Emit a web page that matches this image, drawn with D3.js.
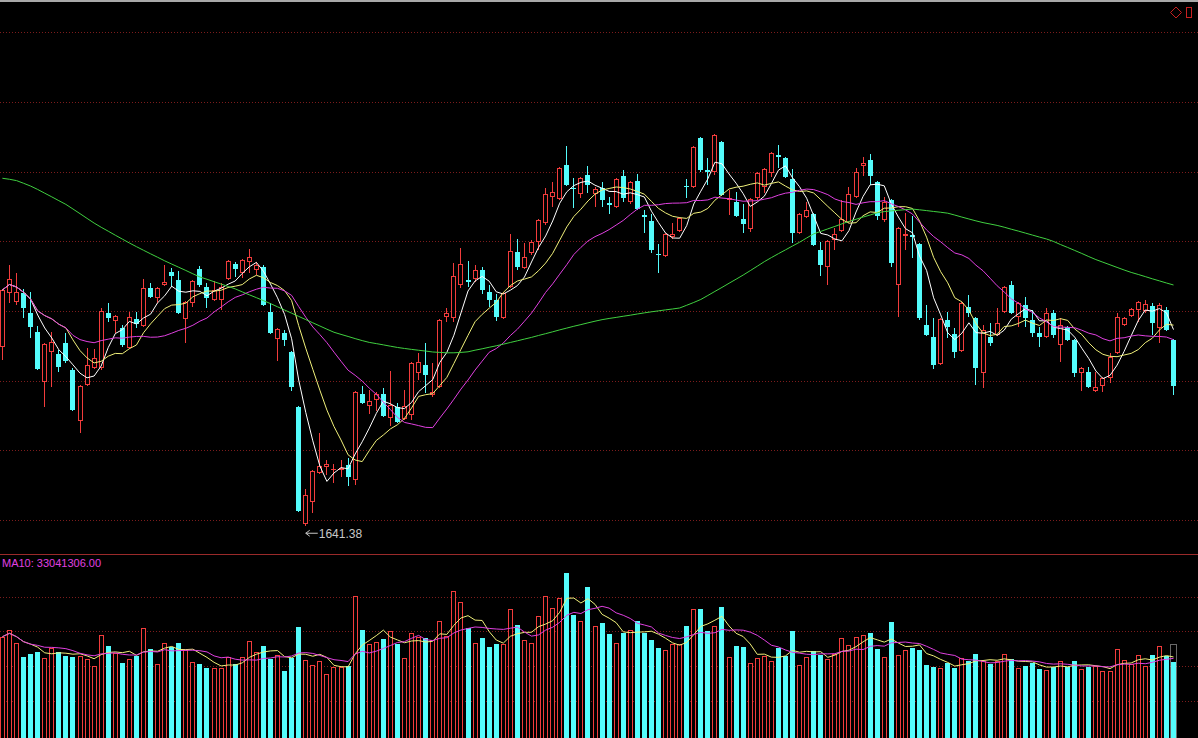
<!DOCTYPE html>
<html><head><meta charset="utf-8">
<script src="https://cdn.jsdelivr.net/npm/d3@7"></script>
<style>html,body{margin:0;padding:0;background:#000;overflow:hidden}svg{display:block}</style>
</head><body>
<svg id="c" width="1198" height="738"></svg>
<script>
// ---- data (prices in index points, volume in 10k shares) ----
const open=[1909.5,1990.5,1977,1990.5,1960.5,1932,1857,1902,1899,1915.5,1875,1798.5,1852.5,1878,1878,1960.5,1948.5,1938,1908,1951.5,1941,1998,1983,2002.5,2022,2010,1951.5,1975.5,2026.5,1999.5,1980,1980,2011.5,2034,2020.5,2037,2025,2029.5,1962,1921.5,1930.5,1902,1819.5,1644,1677,1720.5,1729.5,1725,1725,1732.5,1710,1839,1821,1830,1839,1803,1819.5,1801.5,1807.5,1870.5,1882.5,1837.5,1849.5,1954.5,1953,2002.5,2010,2011.5,2025,1992,1980,1953,1999.5,2052,2028,2050.5,2067,2095.5,2134.5,2131.5,2182.5,2148,2139,2167.5,2139,2148,2125.5,2119.5,2166,2127,2158.5,2107.5,2098.5,2049,2046,2074.5,2083.5,2151,2149.5,2223,2175,2172,2217,2130,2127,2101.5,2086.5,2133,2149.5,2170.5,2197.5,2193,2161.5,2080.5,2104.5,2109,2055,2029.5,2070,2083.5,2097,2134.5,2181,2190,2157,2100,2130,2002.5,2076,2077.5,2064,1942.5,1924.5,1884,1950,1929,1903.5,1969.5,1953,1870.5,1924.5,1927.5,1962,2002.5,1954.5,1972.5,1950,1930.5,1924.5,1960.5,1912.5,1939.5,1920,1870.5,1872,1843.5,1851,1863,1900.5,1942.5,1956,1965,1963.5,1971,1938,1965,1920];
const high=[1996.5,2032.5,2020.5,1996.5,1992,1941,1915.5,1932,1905,1930.5,1878,1852.5,1908,1906.5,1968,1975.5,1957.5,1942.5,1962,1962,2011.5,2005.5,1999.5,2032.5,2028,2023.5,1978.5,2010,2031,2005.5,2008.5,2005.5,2040,2037,2041.5,2056.5,2037,2032.5,1975.5,1938,1935,1903.5,1821,1696.5,1725,1780.5,1740,1734,1740,1743,1843.5,1851,1845,1842,1848,1873.5,1825.5,1845,1887,1900.5,1915.5,1885.5,1951.5,1968,2035.5,2058,2038.5,2032.5,2029.5,2002.5,1989,1992,2079,2071.5,2065.5,2070,2101.5,2148,2157,2179.5,2211,2163,2164.5,2181,2149.5,2157,2134.5,2163,2175,2158.5,2169,2115,2109,2064,2080.5,2095.5,2104.5,2161.5,2211,2224.5,2193,2229,2218.5,2145,2142,2124,2133,2172,2178,2202,2212.5,2194.5,2176.5,2110.5,2127,2110.5,2067,2070,2088,2130,2149.5,2178,2194.5,2199,2158.5,2134.5,2131.5,2089.5,2110.5,2106,2065.5,1972.5,1953,1953,1962,1938,1977,1987.5,1954.5,1942.5,1945.5,1968,2001,2008.5,1977,1984.5,1965,1939.5,1968,1965,1953,1941,1921.5,1879.5,1879.5,1872,1864.5,1900.5,1960.5,1954.5,1968,1978.5,1980,1975.5,1975.5,1969.5,1921.5];
const low=[1890,1975.5,1972.5,1953,1923,1875,1819.5,1849.5,1872,1885.5,1813.5,1780.5,1851,1876.5,1875,1947,1930.5,1909.5,1906.5,1938,1939.5,1983,1975.5,2001,1999.5,1959,1915.5,1969.5,1999.5,1968,1978.5,1965,2010,2014.5,2013,2020.5,2017.5,1971,1929,1888.5,1911,1843.5,1662,1641.38,1660.5,1719,1717.5,1705.5,1714.5,1701,1702.5,1824,1809,1813.5,1804.5,1791,1795.5,1800,1800,1860,1840.5,1834.5,1848,1947,1947,1998,1999.5,2007,1989,1969.5,1948.5,1951.5,1998,2025,2026.5,2047.5,2055,2092.5,2119.5,2130,2151,2118,2133,2140.5,2119.5,2119.5,2109,2118,2127,2124,2115,2080.5,2050.5,2020.5,2044.5,2071.5,2082,2133,2148,2172,2152.5,2167.5,2136,2107.5,2104.5,2080.5,2082,2130,2140.5,2164.5,2178,2163,2065.5,2079,2103,2061,2016,2002.5,2055,2082,2095.5,2133,2166,2152.5,2100,2097,2029.5,1954.5,2055,2043,1950,1926,1876.5,1882.5,1923,1893,1902,1954.5,1852.5,1848,1911,1926,1960.5,1959,1939.5,1939.5,1924.5,1909.5,1923,1923,1887,1918.5,1864.5,1843.5,1848,1842,1842,1855.5,1899,1941,1954.5,1947,1960.5,1927.5,1915.5,1933.5,1837.5];
const close=[1995,2011.5,1992,1968,1939.5,1876.5,1914,1917,1879.5,1888.5,1815,1851,1882.5,1893,1963.5,1953,1956,1912.5,1954.5,1944,1998,1984.5,1998,2007,2016,1960.5,1977,2008.5,2002.5,1983,1995,1999.5,2038.5,2026.5,2040,2044.5,2032.5,1972.5,1930.5,1936.5,1920,1849.5,1663.5,1687.5,1723.5,1731,1734,1726.5,1728,1714.5,1842,1825.5,1828.5,1839,1806,1822.5,1797,1821,1885.5,1887,1867.5,1842,1950,1960.5,2016,2034,2007,2025,1995,1980,1954.5,1990.5,2053.5,2029.5,2044.5,2067,2100,2139,2142,2178,2152.5,2146.5,2163,2152.5,2146.5,2130,2122.5,2161.5,2133,2157,2116.5,2104.5,2055,2047.5,2079,2079,2103,2149.5,2209.5,2175,2172,2227.5,2137.5,2133,2106,2094,2131.5,2170.5,2176.5,2200.5,2194.5,2164.5,2080.5,2109,2115,2062.5,2032.5,2068.5,2079,2101.5,2139,2172,2185.5,2166,2106,2127,2035.5,2088,2079,2074.5,1953,1927.5,1882.5,1951.5,1939.5,1902,1975.5,1960.5,1878,1935,1915.5,1945.5,1999.5,1960.5,1975.5,1953,1930.5,1924.5,1960.5,1927.5,1942.5,1920,1870.5,1878,1849.5,1849.5,1863,1894.5,1954.5,1953,1966.5,1977,1974,1945.5,1972.5,1935,1851];
const volume=[4204,4482,3930,3374,3486,3581,3308,3723,3581,3403,3374,3403,3279,2988,4262,3818,3515,3125,3279,3415,4553,3681,3071,3930,3764,3930,3652,3154,3071,2917,2905,2905,3349,3059,3374,4038,3557,3818,3279,3445,2793,3308,4594,3237,3030,3196,2656,2959,2959,2988,5893,4482,3901,3984,4121,4441,3901,3320,4345,4204,4138,4067,4856,4233,6101,5644,4553,3930,4162,3789,3901,3901,5354,4690,4067,3930,5063,5893,5383,5822,6835,5105,4868,6279,4648,4760,4316,3930,4370,4482,4868,4370,4067,3747,3652,3901,3889,4648,5354,5354,4441,4648,5449,3362,3818,3777,3100,3308,3403,3196,3723,3403,4453,3030,3374,3611,3445,3279,3486,4150,3860,4179,4275,4370,3694,3374,4826,3445,3652,3747,3652,3030,2959,2917,3125,2893,3308,3196,3486,3196,3059,3196,3486,3279,2917,3000,3125,2851,2822,2934,3196,2959,3196,2876,2959,3000,2781,2781,3694,3237,3071,3445,2988,3445,3818,3403,3166];
// 60-day moving average (needs history before the window)
const ma60=[2162.6,2161.1,2159.1,2155.1,2150.9,2145.8,2140.2,2134.7,2129,2123.4,2116.5,2109.5,2102.4,2095.4,2089.1,2083.2,2077.2,2071.4,2065.5,2060,2054.6,2049.3,2044.1,2038.8,2033.9,2029.1,2024.3,2019.3,2014.5,2011.1,2007.5,2003.9,2000.4,1996.7,1992.2,1987.8,1983.5,1979.1,1974.6,1969.8,1965,1960.2,1955.4,1950.6,1945.8,1941,1936.2,1931.6,1928.4,1925.3,1922.1,1919.1,1916.4,1914.6,1912.7,1910.7,1908.8,1907.3,1905.9,1904.6,1903.4,1902,1901.4,1900.8,1900.8,1901.4,1902.3,1904.7,1906.8,1909.1,1911.3,1913.7,1916.3,1918.8,1921.4,1923.9,1926.8,1929.5,1932.3,1935.2,1937.9,1940.6,1943.1,1945.7,1948.2,1950.5,1952.3,1953.9,1955.6,1957.2,1959,1960.7,1962.3,1963.7,1965.2,1966.5,1968,1972.1,1976.3,1980.8,1986.8,1992.9,1998.9,2005.1,2011.2,2017.4,2024,2030.7,2037.5,2043.6,2049.5,2055.2,2061,2066.7,2073,2079.2,2082.9,2086.7,2090.4,2094.2,2097.9,2101.1,2104.4,2107.5,2110.8,2112.6,2113.7,2114.6,2115.5,2116.4,2115.3,2114.1,2112.8,2111.6,2110.2,2107.4,2104.4,2101.5,2098.7,2096.1,2094,2091.9,2089.2,2086.2,2083.4,2080.4,2077.4,2074.4,2071.5,2067.8,2063.1,2058.8,2054.3,2049.8,2045.1,2040.6,2036.7,2032.8,2028.9,2025,2021.4,2018.3,2015.1,2011.8,2008.7,2005.5,2002.5];
const priceGrid=[1650,1754.5,1859,1963.5,2068,2172.5,2277,2381.5];
const volGrid=[1536,2988,4420,5852];
const estVolume=3901;           // dotted estimated-volume box on the last bar
const volLabel="MA10: 33041306.00";
const lowLabel="1641.38";

// ---- setup ----
const W=1198,H=738,n=close.length;
const UP="#f23c3c",DN="#54fcfc",GRID="#7c1c1c";
const svg=d3.select("#c");
svg.append("rect").attr("width",W).attr("height",H).attr("fill","#000");
svg.append("rect").attr("x",0).attr("y",0).attr("width",W).attr("height",2).attr("fill","#a8a8a8");

const x=d3.scaleLinear().domain([0,n-1]).range([2.4,1173.5]);
const y=d3.scaleLinear().domain([1600,2430]).range([553.33,0]);
const yv=d3.scaleLinear().domain([0,7000]).range([738,738-7000/41.5]);

// grids
svg.append("g").selectAll("line").data(priceGrid).join("line")
  .attr("x1",0).attr("x2",W).attr("y1",d=>Math.round(y(d))+0.5).attr("y2",d=>Math.round(y(d))+0.5)
  .attr("stroke",GRID).attr("stroke-dasharray","1,2");
svg.append("g").selectAll("line").data(volGrid).join("line")
  .attr("x1",0).attr("x2",W).attr("y1",d=>Math.round(yv(d))+0.5).attr("y2",d=>Math.round(yv(d))+0.5)
  .attr("stroke",GRID).attr("stroke-dasharray","1,2");
svg.append("line").attr("x1",0).attr("x2",W).attr("y1",554.5).attr("y2",554.5).attr("stroke","#9a2a2a");

// top-right icons
svg.append("path").attr("d","M1176,7L1181.5,12.5L1176,18L1170.5,12.5Z").attr("fill","none").attr("stroke","#c82020");
svg.append("rect").attr("x",1186.5).attr("y",7.5).attr("width",5).attr("height",10).attr("fill","none").attr("stroke","#c82020");

// candles
const cg=svg.append("g");
const idx=d3.range(n);
idx.forEach(i=>{
  const left=Math.round(x(i)-2.5), mid=left+2.5;
  const up=close[i]>=open[i];
  const yo=y(open[i]),yc=y(close[i]);
  const top=Math.round(Math.min(yo,yc)),bot=Math.round(Math.max(yo,yc));
  const yh=Math.round(y(high[i])),yl=Math.round(y(low[i]));
  if(up){
    if(yh<top) cg.append("line").attr("x1",mid).attr("x2",mid).attr("y1",yh).attr("y2",top).attr("stroke",UP);
    if(yl>bot) cg.append("line").attr("x1",mid).attr("x2",mid).attr("y1",bot).attr("y2",yl).attr("stroke",UP);
    if(bot-top>=2) cg.append("rect").attr("x",left+0.5).attr("y",top+0.5).attr("width",4).attr("height",bot-top-1).attr("fill","#000").attr("stroke",UP);
    else cg.append("line").attr("x1",left).attr("x2",left+5).attr("y1",top+0.5).attr("y2",top+0.5).attr("stroke",UP);
  } else {
    cg.append("line").attr("x1",mid).attr("x2",mid).attr("y1",yh).attr("y2",yl).attr("stroke",DN);
    cg.append("rect").attr("x",left).attr("y",top).attr("width",5).attr("height",Math.max(bot-top,1)).attr("fill",DN);
  }
});

// moving averages
function ma(arr,k){return arr.map((_,i)=>d3.mean(arr.slice(Math.max(0,i-k+1),i+1)));}
const line=d3.line().x((d,i)=>x(i)).y(d=>y(d));
[[ma(close,5),"#ffffff"],[ma(close,10),"#f0f07a"],[ma(close,20),"#e040e0"],[ma60,"#40d040"]].forEach(([d,c])=>{
  svg.append("path").datum(d).attr("d",line).attr("fill","none").attr("stroke",c).attr("stroke-width",1);
});

// lowest-point marker
const iLow=d3.minIndex(low);
const ax=x(iLow), ay=y(low[iLow])+7.5;
svg.append("line").attr("x1",ax).attr("x2",ax+12).attr("y1",ay).attr("y2",ay).attr("stroke","#c8c8c8");
svg.append("path").attr("d",`M${ax+4},${ay-3}L${ax},${ay}L${ax+4},${ay+3}`).attr("fill","none").attr("stroke","#c8c8c8");
svg.append("text").attr("x",ax+13).attr("y",ay+4.5).attr("fill","#c8c8c8")
  .attr("font-family","Liberation Sans, Arial, sans-serif").attr("font-size",12).text(lowLabel);

// volume bars
const vg=svg.append("g");
idx.forEach(i=>{
  const left=Math.round(x(i)-2.5);
  const top=Math.round(yv(volume[i]));
  if(close[i]>=open[i]) vg.append("rect").attr("x",left+0.5).attr("y",top+0.5).attr("width",4).attr("height",H-top).attr("fill","#000").attr("stroke",UP);
  else vg.append("rect").attr("x",left).attr("y",top).attr("width",5).attr("height",H-top).attr("fill",DN);
});
// estimated volume box
{
  const left=Math.round(x(n-1)-2.5), top=Math.round(yv(estVolume));
  vg.append("rect").attr("x",left-0.5).attr("y",top+0.5).attr("width",6).attr("height",H-top).attr("fill","none").attr("stroke","#d0d0d0").attr("stroke-dasharray","1,1");
}
const vline=d3.line().x((d,i)=>x(i)).y(d=>yv(d));
[[ma(volume,5),"#f0f07a"],[ma(volume,10),"#e040e0"]].forEach(([d,c])=>{
  svg.append("path").datum(d).attr("d",vline).attr("fill","none").attr("stroke",c).attr("stroke-width",1);
});
svg.append("text").attr("x",2).attr("y",567).attr("fill","#e040e0")
  .attr("font-family","Liberation Sans, Arial, sans-serif").attr("font-size",11).text(volLabel);
</script>
</body></html>
